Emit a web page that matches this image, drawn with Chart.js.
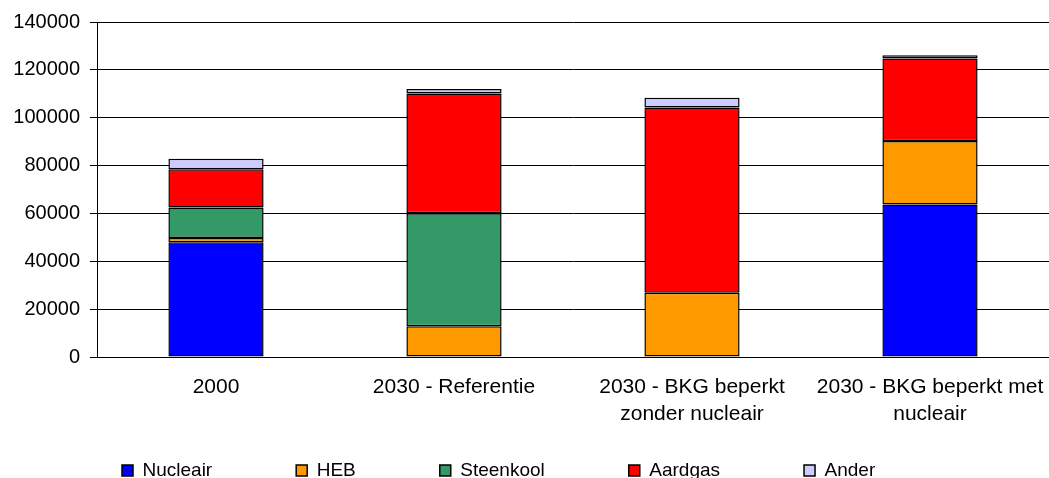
<!DOCTYPE html>
<html>
<head>
<meta charset="utf-8">
<script src="https://cdn.jsdelivr.net/npm/chart.js@4/dist/chart.umd.min.js"></script>
<style>
  html, body { margin: 0; padding: 0; background: #fff; overflow: hidden; }
  #wrap { width: 1049px; height: 566px; position: relative; }
</style>
</head>
<body>
<div id="wrap"><canvas id="mixChart"></canvas></div>
<script>
// Scenarios (two-line labels where the text wraps)
const scenarios = [
    '2000',
    '2030 - Referentie',
    ['2030 - BKG beperkt', 'zonder nucleair'],
    ['2030 - BKG beperkt met', 'nucleair']
];

// Production per source
const nucleair  = [48000, 0, 0, 63700];
const heb       = [1700, 12800, 26800, 26600];
const steenkool = [12800, 47300, 0, 0];
const aardgas   = [16000, 50000, 77500, 34400];
const ander     = [4400, 1900, 4000, 1400];

const yTicks = [0, 20000, 40000, 60000, 80000, 100000, 120000, 140000];

const family = '"Liberation Sans", Arial, sans-serif';

function series(label, data, color) {
    return {
        label: label,
        data: data,
        backgroundColor: color,
        borderColor: '#000000',
        borderWidth: 1.5,
        borderSkipped: false,
        barPercentage: 0.4,
        categoryPercentage: 1.0
    };
}

// Pull the legend row up under the axis labels and a bit left of centre
const legendPlace = {
    id: 'legendPlace',
    afterLayout(chart) {
        const lg = chart.legend;
        if (!lg) return;
        const h = lg.height;
        lg.top = 377;
        lg.bottom = 377 + h;
        lg.left = 38;
    }
};

const ctx = document.getElementById('mixChart').getContext('2d');
const mixChart = new Chart(ctx, {
    type: 'bar',
    data: {
        labels: scenarios,
        datasets: [
            series('Nucleair', nucleair, '#0000FF'),
            series('HEB', heb, '#FF9900'),
            series('Steenkool', steenkool, '#339966'),
            series('Aardgas', aardgas, '#FF0000'),
            series('Ander', ander, '#CCCCFF')
        ]
    },
    plugins: [legendPlace],
    options: {
        responsive: true,
        maintainAspectRatio: false,
        animation: false,
        layout: { padding: { top: 9, right: 0, left: 0, bottom: 0 } },
        plugins: {
            tooltip: { enabled: false },
            legend: {
                position: 'bottom',
                align: 'start',
                labels: {
                    color: '#000000',
                    font: { family: family, size: 19 },
                    boxWidth: 11,
                    boxHeight: 11,
                    padding: 84
                }
            }
        },
        scales: {
            x: {
                stacked: true,
                grid: { display: false },
                border: { display: true, color: '#000000', width: 1 },
                ticks: {
                    color: '#000000',
                    font: { family: family, size: 21, lineHeight: 1.29 },
                    padding: 9,
                    maxRotation: 0,
                    autoSkip: false
                },
                afterFit: (scale) => {
                    scale.height = 96;
                    // let the plot run to the right edge
                    scale.paddingLeft = 0;
                    scale.paddingRight = 0;
                }
            },
            y: {
                stacked: true,
                min: 0,
                max: 140000,
                afterBuildTicks: (scale) => {
                    scale.ticks = yTicks.map(v => ({ value: v }));
                },
                grid: {
                    color: '#000000',
                    lineWidth: 1,
                    drawTicks: true,
                    tickLength: 7
                },
                border: { display: true, color: '#000000', width: 1 },
                ticks: {
                    color: '#000000',
                    font: { family: family, size: 20 },
                    padding: 10,
                    callback: (value) => String(value)
                },
                afterFit: (scale) => { scale.width = 97; }
            }
        }
    }
});
</script>
</body>
</html>
